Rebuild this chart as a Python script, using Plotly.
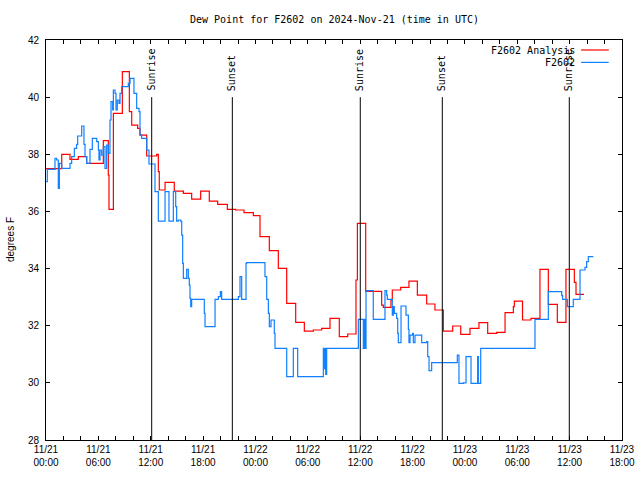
import pandas as pd
import plotly.graph_objects as go

base = pd.Timestamp("2024-11-21 00:00")

# F2602 Analysis (red) - hours after 11/21 00:00 UTC, dew point degF
red_hours = [0.0, 1.8, 2.75, 3.7, 4.66, 6.57, 7.14, 7.22, 7.72, 8.75, 9.55, 9.82,
             10.5, 10.77, 11.54, 12.68, 12.87, 12.98, 13.64, 14.7, 15.74, 16.69,
             17.72, 18.71, 19.67, 20.78, 21.73, 22.69, 23.76, 24.52, 25.59, 26.62,
             27.58, 28.61, 29.6, 30.63, 31.59, 32.54, 33.61, 34.57, 35.52, 35.68,
             36.63, 38.46, 38.65, 39.53, 39.68, 40.64, 41.59, 42.55, 43.62, 44.57,
             45.53, 46.6, 47.52, 48.58, 49.61, 50.61, 51.64, 52.6, 53.55, 53.66,
             54.6, 55.57, 56.6, 57.56, 58.59, 59.58, 60.54, 60.73, 61.65]
red_values = [37.5, 38.0, 37.82, 37.92, 37.68, 38.48, 37.27, 36.07, 39.43, 40.89, 39.49, 39.02,
              38.91, 38.67, 37.94, 38.0, 37.39, 36.75, 37.02, 36.71, 36.63, 36.43,
              36.71, 36.36, 36.25, 36.07, 36.05, 35.96, 35.85, 35.12, 34.63, 34.01,
              32.78, 32.12, 31.81, 31.85, 31.91, 32.26, 31.62, 31.71, 33.6, 35.58,
              33.2, 32.72, 32.64, 32.9, 33.25, 33.34, 33.56, 33.07, 32.76, 32.55,
              31.81, 31.99, 31.7, 31.91, 32.11, 31.73, 31.77, 32.46, 32.67, 32.86,
              32.2, 32.26, 33.97, 32.75, 32.12, 33.97, 33.52, 33.1, 33.1]

# F2602 observations (blue)
blue_hours = [0.0, 0.15, 1.03, 1.22, 1.41, 1.53, 1.8, 2.75, 2.94, 3.25, 3.51, 3.63,
              4.09, 4.35, 4.47, 4.66, 5.04, 5.31, 5.81, 6.0, 6.07, 6.19, 6.38, 6.57,
              6.76, 6.95, 7.14, 7.33, 7.45, 7.64, 7.72, 7.91, 8.02, 8.17, 8.36, 8.48,
              8.67, 9.43, 9.63, 10.08, 10.39, 10.66, 10.77, 10.96, 11.54, 11.8, 12.49,
              12.87, 13.64, 14.09, 14.59, 14.86, 14.97, 15.16, 15.43, 15.55, 15.66,
              15.74, 16.12, 16.31, 16.42, 16.5, 16.58, 16.69, 18.14, 18.22, 19.37,
              19.75, 19.98, 20.13, 22.04, 22.23, 22.42, 22.92, 22.99, 25.09, 25.29,
              25.48, 25.59, 25.78, 26.16, 26.24, 27.58, 28.34, 28.84, 31.78, 31.85,
              31.95, 32.05, 32.16, 35.79, 36.36, 36.5, 36.55, 36.67, 37.5, 38.84,
              39.04, 39.11, 39.68, 39.8, 39.91, 40.18, 40.3, 40.37, 40.68, 41.25,
              41.52, 41.59, 41.71, 42.01, 42.09, 42.28, 43.05, 43.62, 43.74, 43.89,
              44.19, 47.13, 47.32, 47.82, 48.13, 48.7, 49.46, 49.54, 49.81, 56.03,
              57.56, 59.09, 59.2, 59.74, 60.42, 61.19, 61.76, 61.95, 62.14, 62.71]
blue_values = [37.04, 37.47, 37.86, 37.8, 36.81, 37.68, 37.51, 37.68, 37.92, 38.21, 38.35, 38.64,
               38.99, 38.35, 37.92, 37.68, 38.17, 38.56, 38.44, 38.15, 37.8, 38.15, 37.97, 38.27,
               37.51, 38.32, 38.03, 39.2, 39.84, 39.55, 40.25, 40.13, 39.55, 39.9, 39.78, 40.13,
               40.37, 40.48, 40.66, 40.13, 39.61, 39.49, 38.68, 38.56, 38.15, 37.66, 36.69,
               35.66, 36.69, 35.66, 36.69, 36.17, 35.66, 35.7, 35.66, 35.17, 34.18,
               33.66, 33.97, 33.66, 33.42, 32.96, 32.67, 32.92, 32.43, 31.97, 32.92,
               33.02, 33.19, 32.92, 33.02, 33.72, 32.92, 34.18, 34.21, 33.72, 32.92,
               32.43, 31.97, 32.2, 31.73, 31.21, 30.22, 31.21, 30.22, 31.21, 30.5,
               31.21, 30.3, 31.21, 32.22, 31.21, 32.22, 31.21, 33.23, 32.22, 33.23,
               33.07, 32.92, 32.37, 32.67, 32.43, 32.26, 31.73, 31.41, 32.69, 32.37,
               31.87, 31.41, 31.67, 31.73, 31.41, 31.67, 31.41, 31.44, 30.92, 30.43,
               30.71, 30.97, 29.98, 30.0, 30.92, 29.98, 30.92, 29.98, 31.21, 32.22,
               33.19, 33.05, 32.92, 32.67, 32.92, 33.95, 34.04, 34.24, 34.42, 34.42]

# Sun events (hours after 11/21 00:00 UTC)
sun_hours = [12.11, 21.35, 36.01, 45.41, 59.96]
sun_labels = ["Sunrise", "Sunset", "Sunrise", "Sunset", "Sunrise"]

tick_hours = list(range(0, 67, 2))
tick_labels = ["11/21<br>00:00", "11/21<br>06:00", "11/21<br>12:00", "11/21<br>18:00",
               "11/22<br>00:00", "11/22<br>06:00", "11/22<br>12:00", "11/22<br>18:00",
               "11/23<br>00:00", "11/23<br>06:00", "11/23<br>12:00", "11/23<br>18:00"]


def to_time(hours):
    return [base + pd.Timedelta(hours=h) for h in hours]


mono = "DejaVu Sans Mono"
sans = "Liberation Sans"

fig = go.Figure()
fig.add_trace(go.Scatter(x=to_time(red_hours), y=red_values, mode="lines",
                         line=dict(color="#ff0000", width=1.2, shape="hv"),
                         name="F2602 Analysis", showlegend=False))
fig.add_trace(go.Scatter(x=to_time(blue_hours), y=blue_values, mode="lines",
                         line=dict(color="#1080ff", width=1.2, shape="hv"),
                         name="F2602", showlegend=False))

for h, lab in zip(sun_hours, sun_labels):
    t = base + pd.Timedelta(hours=h)
    fig.add_shape(type="line", xref="x", yref="y", x0=t, x1=t, y0=28, y1=40,
                  line=dict(color="black", width=1), layer="above")
    fig.add_annotation(x=t, y=40.15, xref="x", yref="y", text=lab, textangle=-90,
                       showarrow=False, xanchor="center", yanchor="bottom",
                       font=dict(family=mono, size=10, color="black"))

# manual gnuplot-style legend (text right, sample line to the right)
legend_items = [("F2602 Analysis", "#ff0000", 0.975), ("F2602", "#1080ff", 0.944)]
for txt, col, yy in legend_items:
    fig.add_annotation(x=0.922, y=yy, xref="paper", yref="paper", text=txt,
                       showarrow=False, xanchor="right", yanchor="middle",
                       font=dict(family=mono, size=10, color="black"))
    fig.add_shape(type="line", xref="paper", yref="paper", x0=0.929, x1=0.977,
                  y0=yy, y1=yy, line=dict(color=col, width=1.2))

# title and y-axis label as annotations (positioned in paper units)
fig.add_annotation(x=0.5, y=(440 - 20) / 400, xref="paper", yref="paper",
                   text="Dew Point for F2602 on 2024-Nov-21 (time in UTC)",
                   showarrow=False, xanchor="center", yanchor="middle",
                   font=dict(family=mono, size=10, color="black"))
fig.add_annotation(x=(10 - 46) / 576, y=0.5, xref="paper", yref="paper",
                   text="degrees F", textangle=-90, showarrow=False,
                   xanchor="center", yanchor="middle",
                   font=dict(family=sans, size=10, color="black"))

tickvals = to_time(tick_hours)
ticktext = [tick_labels[i // 3] if i % 3 == 0 else "" for i in range(len(tick_hours))]

fig.update_layout(
    width=640, height=480, autosize=False,
    margin=dict(l=46, r=18, t=40, b=40, autoexpand=False),
    paper_bgcolor="white", plot_bgcolor="white",
    showlegend=False,
)
fig.update_xaxes(range=[base, base + pd.Timedelta(hours=66)], tickvals=tickvals,
                 ticktext=ticktext, ticks="inside", ticklen=4, tickcolor="black",
                 showline=True, linecolor="black", linewidth=1, mirror="ticks",
                 showgrid=False, zeroline=False, automargin=False,
                 tickfont=dict(family=sans, size=10, color="black"))
fig.update_yaxes(range=[28, 42], tickvals=list(range(28, 43, 2)), ticks="inside",
                 ticklen=4, tickcolor="black", showline=True, linecolor="black",
                 linewidth=1, mirror="ticks", showgrid=False, zeroline=False,
                 automargin=False, ticklabelstandoff=4,
                 tickfont=dict(family=sans, size=10, color="black"))

fig.write_html("out.html", config={"displayModeBar": False},
               post_script="document.body.style.margin='0';")
